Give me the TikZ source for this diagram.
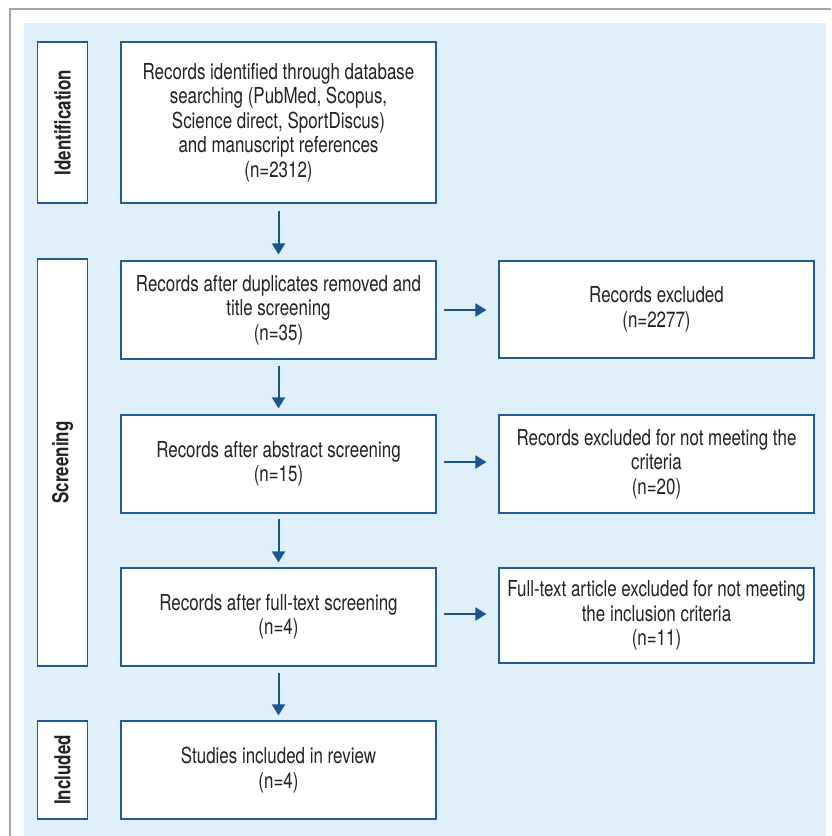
\documentclass[tikz,border=0pt]{standalone}
\usepackage{fontspec}
\setmainfont{TeX Gyre Heros}[FakeStretch=0.77]
\usetikzlibrary{arrows.meta}
\definecolor{bgblue}{HTML}{E0F0FA}
\definecolor{boxblue}{HTML}{1F5C99}
\definecolor{arrblue}{HTML}{1A5590}
\definecolor{txt}{HTML}{222222}
\tikzset{
  box/.style={draw=boxblue, line width=1.2pt, fill=white, inner sep=0pt, align=center,
    text=txt, font=\fontsize{22}{24.5}\selectfont},
  side/.style={draw=boxblue, line width=1.2pt, fill=white, inner sep=0pt},
  sidetext/.style={rotate=90, text=txt, font=\fontsize{22}{24}\selectfont\bfseries},
  arr/.style={draw=arrblue, line width=2pt, -{Triangle[width=13pt,length=11pt]}},
}
\begin{document}
\begin{tikzpicture}[x=1pt,y=-1pt]
\useasboundingbox (0,0) rectangle (831,836);
\fill[white] (0,0) rectangle (831,836);
\fill[bgblue] (24,23) rectangle (826,836);
\draw[gray!70, line width=1.2pt] (10,836) -- (10,9) -- (831,9);
% side labels
\node[side, minimum width=50pt, minimum height=161pt] (ident) at (62.5,122.5) {};
\node[sidetext] at (ident.center) {Identification};
\node[side, minimum width=50pt, minimum height=407pt] (screen) at (62.5,462.5) {};
\node[sidetext] at (screen.center) {Screening};
\node[side, minimum width=50pt, minimum height=98pt] (incl) at (62.5,770) {};
\node[sidetext] at (incl.center) {Included};
% main boxes
\node[box, minimum width=315pt, minimum height=161pt] (b1) at (278.5,122.5)
  {Records identified through database\\searching (PubMed, Scopus,\\Science direct, SportDiscus)\\and manuscript references\\(n=2312)};
\node[box, minimum width=315pt, minimum height=98pt] (b2) at (278.5,310)
  {Records after duplicates removed and\\title screening\\(n=35)};
\node[box, minimum width=315pt, minimum height=98pt] (b3) at (278.5,464)
  {Records after abstract screening\\(n=15)};
\node[box, minimum width=315pt, minimum height=98pt] (b4) at (278.5,617)
  {Records after full-text screening\\(n=4)};
\node[box, minimum width=315pt, minimum height=98pt] (b5) at (278.5,770)
  {Studies included in review\\(n=4)};
% right boxes
\node[box, minimum width=315pt, minimum height=97pt] (r1) at (656.5,309.5)
  {Records excluded\\(n=2277)};
\node[box, minimum width=315pt, minimum height=98pt] (r2) at (656.5,464)
  {Records excluded for not meeting the\\criteria\\(n=20)};
\node[box, minimum width=315pt, minimum height=95pt] (r3) at (656.5,615.5)
  {Full-text article excluded for not meeting\\the inclusion criteria\\(n=11)};
% arrows
\draw[arr, shorten <=7pt, shorten >=6pt] (b1.south) -- (b2.north);
\draw[arr, shorten <=6pt, shorten >=6pt] (b2.south) -- (b3.north);
\draw[arr, shorten <=5pt, shorten >=5pt] (b3.south) -- (b4.north);
\draw[arr, shorten <=6pt, shorten >=5pt] (b4.south) -- (b5.north);
\draw[arr, shorten <=7pt, shorten >=12pt] (b2.east) -- (b2.east -| r1.west);
\draw[arr, shorten <=7pt, shorten >=12pt] ([yshift=2pt]b3.east) -- ([yshift=2pt]b3.east -| r2.west);
\draw[arr, shorten <=7pt, shorten >=12pt] ([yshift=3pt]b4.east) -- ([yshift=3pt]b4.east -| r3.west);
\end{tikzpicture}
\end{document}
